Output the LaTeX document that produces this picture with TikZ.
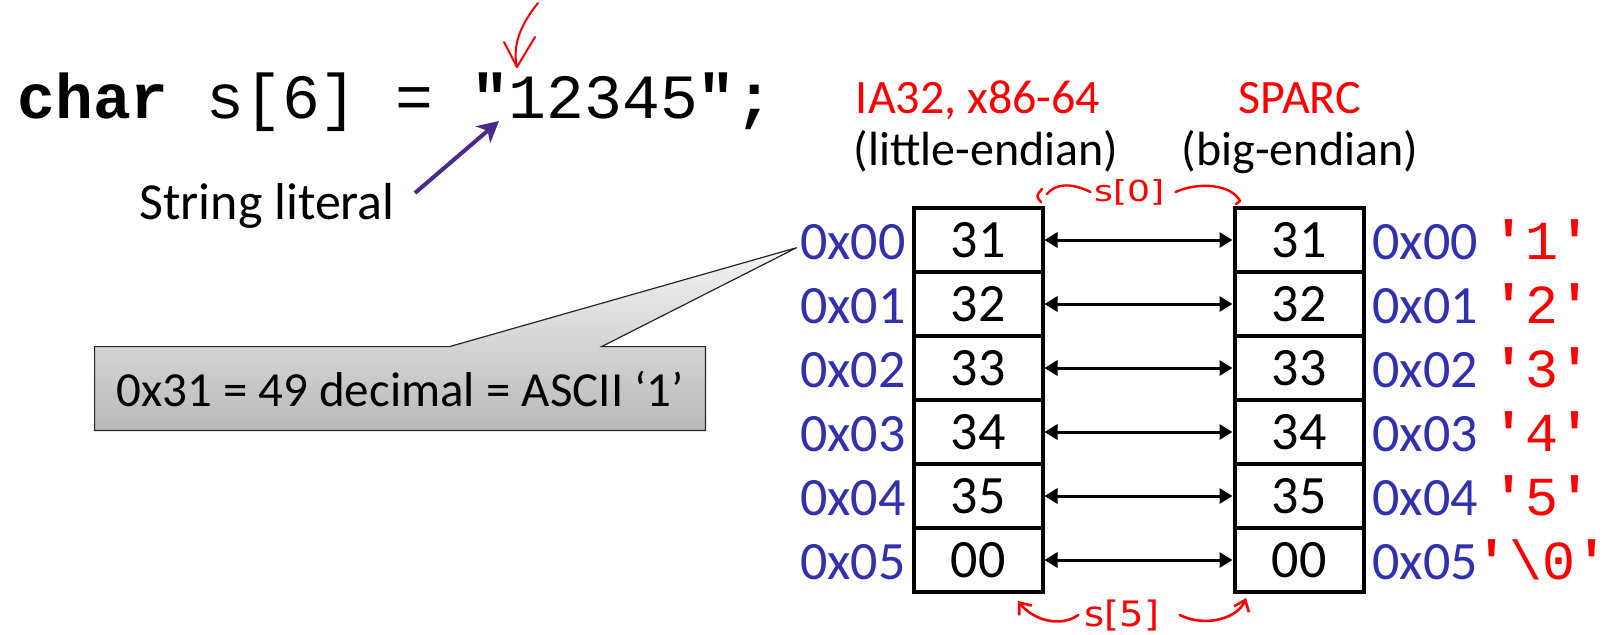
\documentclass[tikz,border=0pt]{standalone}
\usepackage{fontspec}
\setmainfont{Carlito}
\setmonofont{Liberation Mono}
\newfontfamily\handfont{DejaVu Sans}
\usepackage{graphicx}
\usetikzlibrary{arrows.meta,calc}
\definecolor{addrblue}{RGB}{48,48,176}
\definecolor{litpurple}{RGB}{75,40,140}
\definecolor{calltop}{RGB}{244,244,244}
\definecolor{callbot}{RGB}{185,185,185}
\definecolor{handred}{RGB}{255,0,0}
\tikzset{
  cell/.style={draw, line width=2pt, minimum width=64.5pt, minimum height=32pt, inner sep=0pt, font=\fontsize{27}{30}\selectfont},
  addr/.style={text=addrblue, inner sep=0pt, font=\fontsize{27}{30}\selectfont},
  chr/.style={text=handred, inner sep=0pt, font=\ttfamily\fontsize{27.5}{30}\selectfont},
  hdr/.style={inner sep=0pt, font=\fontsize{24}{28}\selectfont},
  dbl/.style={line width=1.5pt, {Triangle[length=6.5pt,width=7.5pt]}-{Triangle[length=6.5pt,width=7.5pt]}},
  hand/.style={draw=handred, line width=1.2pt, line cap=round, line join=round},
  handtext/.style={text=handred, inner sep=0pt},
  litarrow/.style={draw=litpurple, line width=2pt, -{Stealth[length=10.5pt,width=11pt,inset=3pt]}},
}
\begin{document}
\begin{tikzpicture}[x=0.5pt,y=-0.5pt]
\useasboundingbox (0,0) rectangle (1614,634);

% code line
\node[anchor=base west, inner sep=0pt, font=\ttfamily\fontsize{31.5}{36}\selectfont] (code) at (17,118)
  {{\bfseries char} s[6] = {\bfseries\char34}12345{\bfseries\char34;}};

% red hand arrow at the top
\coordinate (rtip) at (517,67);
\draw[hand, line width=1pt] (538,3) .. controls (521,24) and (512,45) .. (rtip);
\draw[hand, line width=1pt] (504,42) -- (rtip) -- (535,37);

% string literal
\node[anchor=base west, inner sep=0pt, font=\fontsize{26}{30}\selectfont] (sl) at (139,219) {String literal};
\coordinate (lstart) at (415,193);
\coordinate (lq) at (499,121);
\draw[litarrow] (lstart) -- (lq);

% headers
\node[hdr, text=handred, anchor=base] (h1) at (978,113) {IA32, x86-64};
\node[hdr, anchor=base] (h2) at (986,165) {(little-endian)};
\node[hdr, text=handred, anchor=base] (h3) at (1300,113) {SPARC};
\node[hdr, anchor=base] (h4) at (1300,165) {(big-endian)};

% memory rows
\foreach \i/\v/\c in {0/31/1, 1/32/2, 2/33/3, 3/34/4, 4/35/5, 5/00/{\char92 0}} {
  \pgfmathsetmacro\yy{240+64*\i}
  \pgfmathsetmacro\yb{259+64*\i}
  \node[cell] (L\i) at (978,\yy) {\v};
  \node[cell] (R\i) at (1299,\yy) {\v};
  \node[addr, anchor=base east] (A\i) at (906,\yb) {0x0\i};
  \node[addr, anchor=base west] (B\i) at (1372,\yb) {0x0\i};
  \node[chr, anchor=base] (C\i) at (1542,\yb) {{\bfseries\char39}\c{\bfseries\char39}};
  \draw[dbl] (L\i.east) -- (R\i.west);
}

% callout
\path node[minimum width=305pt, minimum height=41.5pt, inner sep=0pt] (cb) at (400,388.5) {};
\shade[top color=calltop, bottom color=callbot, draw=black!85, line width=0.6pt, line join=miter]
  (cb.north west) -- ($(cb.north west)+(355,0)$) -- ([shift={(-3,6)}]A0.west)
  -- ($(cb.north west)+(507,0)$) -- (cb.north east) -- (cb.south east) -- (cb.south west) -- cycle;
\node[inner sep=0pt, font=\fontsize{24.5}{28}\selectfont] (cbt) at (cb.center) {0x31 = 49 decimal = ASCII `1'};

% s[0] annotation
\node[handtext, font=\handfont\fontsize{14.5}{16}\selectfont] (s0) at (1130,192) {\scalebox{1.25}[1]{s[0]}};
\draw[hand] ([xshift=-2pt]s0.west) .. controls (1070,182) and (1055,184) .. (1047,194);
\draw[hand] (1042,189) .. controls (1036,196) .. (1041,202);
\draw[hand] ([xshift=5pt]s0.east) .. controls (1200,181) and (1232,185) .. (1240,201) -- (1236,204);

% s[5] annotation
\node[handtext, font=\handfont\fontsize{17.5}{19}\selectfont] (s5) at (1122,615) {\scalebox{1.1}[1]{s[5]}};
\draw[hand, line width=1.3pt, -{Straight Barb[length=5pt,width=8pt]}] ([xshift=-3pt]s5.west) .. controls (1060,628) and (1033,620) .. (1018,601);
\draw[hand, line width=1.3pt, -{Straight Barb[length=5pt,width=8pt]}] ([xshift=10pt]s5.east) .. controls (1206,628) and (1238,618) .. (1246,598);
\end{tikzpicture}
\end{document}
